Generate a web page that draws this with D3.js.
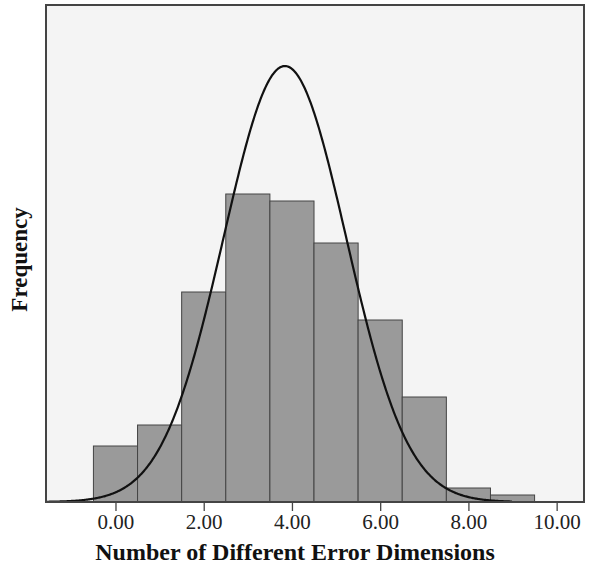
<!DOCTYPE html>
<html>
<head>
<meta charset="utf-8">
<script src="https://cdn.jsdelivr.net/npm/d3@7"></script>
<style>
  html, body { margin: 0; padding: 0; background: #ffffff; }
  svg { display: block; }
</style>
</head>
<body>
<svg id="chart" width="589" height="570"></svg>
<script>
// Histogram bins: centre value of each unit-wide bin and its count
const binCenters = [0, 1, 2, 3, 4, 5, 6, 7, 8, 9];
const binCounts  = [8, 11, 30, 44, 43, 37, 26, 15, 2, 1];
const binWidth = 1;

// Fitted normal curve parameters
const curveMean = 3.84;
const curveSD = 1.39;
const curveEnd = 9.0;

// Axis ticks
const xTicks = [0, 2, 4, 6, 8, 10];
const xDomain = [-1.575, 10.62];
const yDomain = [0, 71];

const xTitle = "Number of Different Error Dimensions";
const yTitle = "Frequency";

const svg = d3.select("#chart");
const plot = { left: 46, top: 5, right: 584, bottom: 502 };

const x = d3.scaleLinear().domain(xDomain).range([plot.left, plot.right]);
const y = d3.scaleLinear().domain(yDomain).range([plot.bottom, plot.top]);

// Plot background
svg.append("rect")
  .attr("x", plot.left).attr("y", plot.top)
  .attr("width", plot.right - plot.left).attr("height", plot.bottom - plot.top)
  .attr("fill", "#f4f4f4");

// Bars
const bins = binCenters.map((c, i) => ({ c, n: binCounts[i] }));
svg.append("g").selectAll("rect").data(bins).join("rect")
  .attr("x", d => x(d.c - binWidth / 2))
  .attr("width", d => x(d.c + binWidth / 2) - x(d.c - binWidth / 2))
  .attr("y", d => y(d.n))
  .attr("height", d => y(0) - y(d.n))
  .attr("fill", "#9a9a9a")
  .attr("stroke", "#444")
  .attr("stroke-width", 1);

// Normal curve scaled to the histogram's total count
const total = d3.sum(binCounts);
const pdf = v => Math.exp(-0.5 * ((v - curveMean) / curveSD) ** 2) / (curveSD * Math.sqrt(2 * Math.PI));
const curvePts = d3.range(xDomain[0], curveEnd + 1e-9, 0.02).map(v => [v, total * binWidth * pdf(v)]);
svg.append("path")
  .datum(curvePts)
  .attr("fill", "none")
  .attr("stroke", "#111")
  .attr("stroke-width", 2.2)
  .attr("d", d3.line().x(d => x(d[0])).y(d => y(d[1])));

// Frame
svg.append("rect")
  .attr("x", plot.left).attr("y", plot.top)
  .attr("width", plot.right - plot.left).attr("height", plot.bottom - plot.top)
  .attr("fill", "none")
  .attr("stroke", "#444")
  .attr("stroke-width", 2);

// Bottom axis
const xAxis = d3.axisBottom(x)
  .tickValues(xTicks)
  .tickFormat(d3.format(".2f"))
  .tickSize(9)
  .tickSizeOuter(0)
  .tickPadding(3);
const gx = svg.append("g")
  .attr("transform", `translate(0,${plot.bottom})`)
  .call(xAxis);
gx.select(".domain").remove();
gx.selectAll(".tick line").attr("stroke", "#444").attr("stroke-width", 1.3);
gx.selectAll(".tick text")
  .attr("fill", "#222")
  .style("font-family", "'Liberation Serif', 'Times New Roman', serif")
  .style("font-size", "21px");

// Axis titles
svg.append("text")
  .attr("x", 295)
  .attr("y", 560)
  .attr("text-anchor", "middle")
  .style("font-family", "'Liberation Serif', 'Times New Roman', serif")
  .style("font-weight", "bold")
  .style("font-size", "24px")
  .attr("fill", "#111")
  .text(xTitle);

svg.append("text")
  .attr("transform", `translate(27,${(plot.top + plot.bottom) / 2 + 6}) rotate(-90)`)
  .attr("text-anchor", "middle")
  .style("font-family", "'Liberation Serif', 'Times New Roman', serif")
  .style("font-weight", "bold")
  .style("font-size", "23px")
  .attr("fill", "#111")
  .text(yTitle);
</script>
</body>
</html>
